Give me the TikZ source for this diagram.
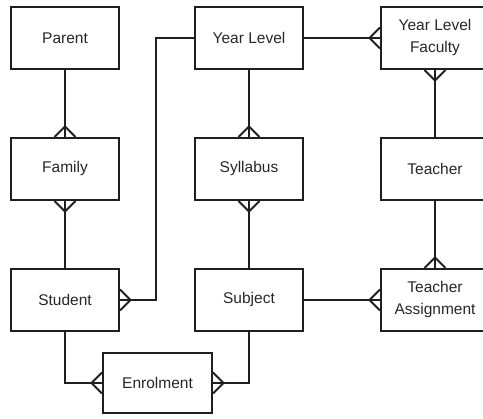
\documentclass[tikz,border=0pt]{standalone}
\usepackage{fontspec}
\setmainfont{Liberation Sans}
\begin{document}
\begin{tikzpicture}[x=1pt,y=1pt,
  line width=2pt,
  entity/.style={draw=black!88, line width=2pt, minimum width=108pt, minimum height=62pt,
    inner sep=0pt, align=center, text=black!85,
    font=\fontsize{15.5}{22}\selectfont},
  link/.style={draw=black!88, line width=2pt},
  crow/.pic={\draw[black!88, line width=2pt, line join=miter] (0,-10.5) -- (10.5,0) -- (0,10.5);}]
\useasboundingbox (0,0) rectangle (483,419);
\begin{scope}
\clip (0,0) rectangle (483,419);
% entities
\node[entity] (parent)   at (65,381) {Parent};
\node[entity] (family)   at (65,250) {Family};
\node[entity] (student)  at (65,119) {Student};
\node[entity, minimum width=109pt, minimum height=60pt] (enrol) at (157.5,36) {Enrolment};
\node[entity] (year)     at (249,381) {Year Level};
\node[entity] (syllabus) at (249,250) {Syllabus};
\node[entity] (subject)  at (249,119) {Subject};
\node[entity] (ylf)      at (435,381) {Year Level\\Faculty};
\node[entity] (teacher)  at (435,250) {Teacher};
\node[entity] (assign)   at (435,119) {Teacher\\Assignment};
% relationships
\draw[link] (parent.south) -- (family.north);
\draw[link] (family.south) -- (student.north);
\draw[link] (year.west) -- ++(-38,0) |- (student.east);
\draw[link] (year.east) -- (ylf.west);
\draw[link] (year.south) -- (syllabus.north);
\draw[link] (syllabus.south) -- (subject.north);
\draw[link] (ylf.south) -- (teacher.north);
\draw[link] (teacher.south) -- (assign.north);
\draw[link] (subject.east) -- (assign.west);
\draw[link] (student.south) |- (enrol.west);
\draw[link] (subject.south) |- (enrol.east);
% many-side crow's feet
\pic[rotate=90]  at (family.north) {crow};
\pic[rotate=-90] at (family.south) {crow};
\pic             at (student.east) {crow};
\pic[rotate=180] at (enrol.west) {crow};
\pic             at (enrol.east) {crow};
\pic[rotate=90]  at (syllabus.north) {crow};
\pic[rotate=-90] at (syllabus.south) {crow};
\pic[rotate=180] at (ylf.west) {crow};
\pic[rotate=-90] at (ylf.south) {crow};
\pic[rotate=90]  at (assign.north) {crow};
\pic[rotate=180] at (assign.west) {crow};
\end{scope}
\end{tikzpicture}
\end{document}
